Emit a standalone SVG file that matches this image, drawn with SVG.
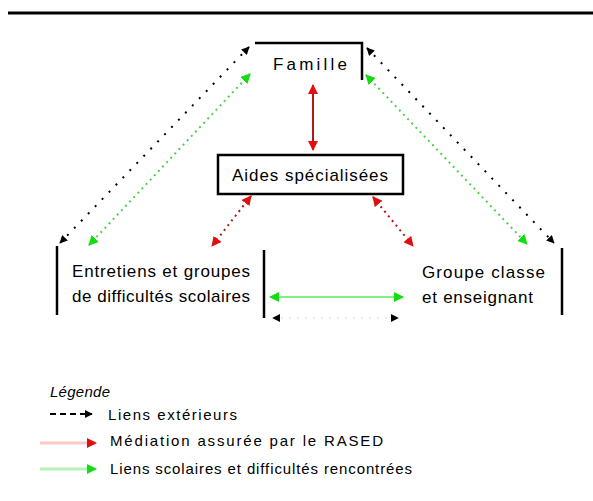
<svg xmlns="http://www.w3.org/2000/svg" width="593" height="501" viewBox="0 0 593 501">
  <style>
    .lbl { font-family: "Liberation Sans", Arial, sans-serif; font-size: 17px; fill: #000; }
    .leg { font-family: "Liberation Sans", Arial, sans-serif; font-size: 15px; fill: #000; }
    .edge { stroke: #000; stroke-width: 2.5; fill: none; }
    .ext { stroke: #000; stroke-width: 2; stroke-dasharray: 2 8; fill: none; }
    .sco { stroke: #4fcf4f; stroke-width: 2; stroke-dasharray: 2 4; fill: none; }
    .med { stroke: #b01818; stroke-width: 2; stroke-dasharray: 2 4; fill: none; }
    .medsolid { stroke: #b01818; stroke-width: 2; fill: none; }
  </style>
  <defs>
    <marker id="ahBlack" viewBox="0 0 10 10" refX="9" refY="5" markerWidth="8" markerHeight="8" markerUnits="userSpaceOnUse" orient="auto-start-reverse">
      <path d="M0,0 L10,5 L0,10 z" fill="#000"/>
    </marker>
    <marker id="ahGreen" viewBox="0 0 10 10" refX="9" refY="5" markerWidth="10" markerHeight="10" markerUnits="userSpaceOnUse" orient="auto-start-reverse">
      <path d="M0,0 L10,5 L0,10 z" fill="#11dd11"/>
    </marker>
    <marker id="ahRed" viewBox="0 0 10 10" refX="9" refY="5" markerWidth="10" markerHeight="10" markerUnits="userSpaceOnUse" orient="auto-start-reverse">
      <path d="M0,0 L10,5 L0,10 z" fill="#e01010"/>
    </marker>
  </defs>

  <!-- header rule -->
  <line x1="8" y1="13" x2="593" y2="13" stroke="#000" stroke-width="3"/>

  <!-- connectors -->
  <g id="connectors">
    <!-- external links (black dotted) -->
    <path class="ext" d="M249,47 L60,243" marker-start="url(#ahBlack)" marker-end="url(#ahBlack)"/>
    <path class="ext" d="M367,48 L554,243" marker-start="url(#ahBlack)" marker-end="url(#ahBlack)"/>
    <path d="M273,318 L398,318" stroke="#ddd" stroke-width="1" stroke-dasharray="2 6" fill="none" marker-start="url(#ahBlack)" marker-end="url(#ahBlack)"/>
    <!-- school links (green) -->
    <path class="sco" d="M250,74 L89,245" marker-start="url(#ahGreen)" marker-end="url(#ahGreen)"/>
    <path class="sco" d="M366,75 L527,244" marker-start="url(#ahGreen)" marker-end="url(#ahGreen)"/>
    <path d="M270,297 L403,297" stroke="#7ff07f" stroke-width="2" fill="none" marker-start="url(#ahGreen)" marker-end="url(#ahGreen)"/>
    <!-- mediation links (red) -->
    <path class="medsolid" d="M313,85 L313,150" marker-start="url(#ahRed)" marker-end="url(#ahRed)"/>
    <path class="med" d="M251,196 L212,246" marker-start="url(#ahRed)" marker-end="url(#ahRed)"/>
    <path class="med" d="M373,197 L413,246" marker-start="url(#ahRed)" marker-end="url(#ahRed)"/>
  </g>

  <!-- nodes -->
  <g id="famille">
    <path class="edge" d="M255,43 L362,43 L362,80"/>
    <text class="lbl" x="273" y="70" textLength="74" lengthAdjust="spacing">Famille</text>
  </g>

  <g id="aides">
    <rect x="218" y="155" width="185" height="39" fill="#fff" stroke="#000" stroke-width="2.5"/>
    <text class="lbl" x="232" y="181" textLength="156" lengthAdjust="spacing">Aides spécialisées</text>
  </g>

  <g id="entretiens">
    <line class="edge" x1="57" y1="246" x2="57" y2="315"/>
    <line class="edge" x1="264" y1="250" x2="264" y2="318"/>
    <text class="lbl" x="72" y="277" textLength="178" lengthAdjust="spacing">Entretiens et groupes</text>
    <text class="lbl" x="72" y="302" textLength="178" lengthAdjust="spacing">de difficultés scolaires</text>
  </g>

  <g id="groupe-classe">
    <line class="edge" x1="562" y1="248" x2="562" y2="315"/>
    <text class="lbl" x="422" y="278" textLength="123" lengthAdjust="spacing">Groupe classe</text>
    <text class="lbl" x="422" y="303" textLength="111" lengthAdjust="spacing">et enseignant</text>
  </g>

  <!-- legend -->
  <g id="legende">
    <text class="leg" x="50" y="397" font-style="italic" textLength="60" lengthAdjust="spacing">Légende</text>
    <path d="M50,414 L92,414" stroke="#000" stroke-width="2" stroke-dasharray="6 4" fill="none" marker-end="url(#ahBlack)"/>
    <text class="leg" x="108" y="420" textLength="129" lengthAdjust="spacing">Liens extérieurs</text>
    <path d="M40,443 L96,443" stroke="#ffc8c8" stroke-width="3" fill="none" marker-end="url(#ahRed)"/>
    <text class="leg" x="110" y="446" textLength="273" lengthAdjust="spacing">Médiation assurée par le RASED</text>
    <path d="M40,469 L96,469" stroke="#b8f0b8" stroke-width="3" fill="none" marker-end="url(#ahGreen)"/>
    <text class="leg" x="110" y="474" textLength="302" lengthAdjust="spacing">Liens scolaires et difficultés rencontrées</text>
  </g>
</svg>
